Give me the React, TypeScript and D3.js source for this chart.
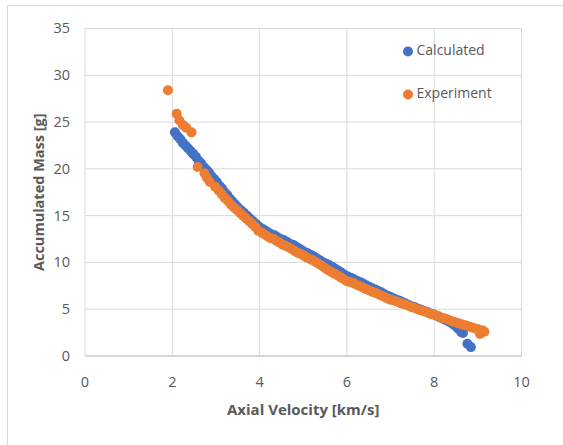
import React from "react";
import * as d3 from "d3";

const calcX = [2.06,2.12,2.18,2.24,2.30,2.36,2.42,2.48,2.54,2.60,2.66,2.72,2.78,2.84,2.90,2.96,3.02,3.08,3.14,3.20,3.26,3.32,3.38,3.44,3.50,3.57,3.64,3.71,3.78,3.85,3.92,3.99,4.06,4.13,4.20,4.27,4.34,4.41,4.48,4.55,4.62,4.69,4.76,4.83,4.90,4.97,5.04,5.11,5.18,5.25,5.32,5.39,5.46,5.53,5.60,5.67,5.74,5.81,5.88,5.95,6.02,6.09,6.16,6.23,6.30,6.37,6.44,6.51,6.58,6.65,6.72,6.79,6.86,6.93,7.00,7.07,7.14,7.21,7.28,7.35,7.42,7.49,7.56,7.63,7.70,7.77,7.84,7.91,7.98,8.05,8.12,8.19,8.26,8.33,8.40,8.46,8.54,8.62,8.66,8.76,8.84];
const calcY = [23.9,23.5,23.2,22.8,22.5,22.2,21.9,21.6,21.3,20.9,20.6,20.2,19.9,19.6,19.2,18.9,18.6,18.2,17.9,17.5,17.2,16.8,16.5,16.2,15.9,15.6,15.3,15.0,14.7,14.4,14.1,13.8,13.6,13.4,13.2,13.0,12.9,12.7,12.5,12.4,12.2,12.0,11.9,11.7,11.5,11.3,11.1,10.95,10.8,10.6,10.4,10.2,10.0,9.85,9.7,9.5,9.3,9.1,8.9,8.65,8.5,8.35,8.2,8.05,7.9,7.75,7.55,7.4,7.25,7.1,6.95,6.8,6.6,6.45,6.3,6.15,6.0,5.9,5.75,5.6,5.45,5.3,5.2,5.05,4.95,4.8,4.7,4.55,4.45,4.3,4.15,4.0,3.85,3.7,3.5,3.3,2.95,2.55,2.45,1.3,0.95];

const expX = [1.90,2.10,2.16,2.24,2.32,2.44,2.58,2.74,2.80,2.86,2.98,3.06,3.13,3.20,3.27,3.34,3.41,3.48,3.55,3.62,3.69,3.76,3.83,3.90,3.97,4.04,4.11,4.18,4.25,4.32,4.39,4.46,4.53,4.60,4.67,4.74,4.81,4.88,4.95,5.02,5.09,5.16,5.23,5.30,5.37,5.44,5.51,5.58,5.65,5.72,5.79,5.86,5.93,6.00,6.07,6.14,6.21,6.28,6.35,6.42,6.49,6.56,6.63,6.70,6.77,6.84,6.91,6.98,7.05,7.12,7.19,7.26,7.33,7.40,7.47,7.54,7.61,7.68,7.75,7.82,7.89,7.96,8.03,8.10,8.17,8.24,8.31,8.38,8.45,8.52,8.59,8.66,8.73,8.80,8.87,8.94,9.00,9.05,9.10,9.15];
const expY = [28.4,25.9,25.2,24.7,24.4,23.9,20.2,19.5,19.0,18.6,18.1,17.7,17.3,16.9,16.6,16.2,15.9,15.6,15.3,15.0,14.7,14.4,14.1,13.8,13.4,13.2,13.0,12.8,12.6,12.5,12.3,12.1,11.9,11.75,11.6,11.4,11.2,11.0,10.9,10.7,10.5,10.35,10.2,10.0,9.8,9.6,9.35,9.15,8.95,8.8,8.6,8.4,8.2,8.0,7.9,7.8,7.65,7.5,7.35,7.2,7.05,6.9,6.8,6.65,6.5,6.35,6.2,6.05,5.95,5.85,5.75,5.6,5.5,5.4,5.25,5.15,5.0,4.9,4.8,4.7,4.55,4.45,4.35,4.25,4.1,4.0,3.9,3.75,3.65,3.55,3.45,3.35,3.25,3.15,3.05,2.95,2.85,2.35,2.75,2.6];

const xTicks = [0, 2, 4, 6, 8, 10];
const yTicks = [0, 5, 10, 15, 20, 25, 30, 35];
const seriesNames = ["Calculated", "Experiment"];
const xTitle = "Axial Velocity [km/s]";
const yTitle = "Accumulated Mass [g]";

const W = 563;
const H = 445;
const left = 85;
const right = 521.5;
const top = 28.5;
const bottom = 356;
const BLUE = "#4472C4";
const ORANGE = "#ED7D31";
const GRID = "#D9D9D9";
const TXT = "#595959";
const FONT = "'Open Sans', 'Liberation Sans', sans-serif";

export default function App() {
  const x = d3.scaleLinear().domain([0, 10]).range([left, right]);
  const y = d3.scaleLinear().domain([0, 35]).range([bottom, top]);
  const calc = calcX.map((v, i) => [v, calcY[i]]);
  const exp = expX.map((v, i) => [v, expY[i]]);
  return (
    <svg
      width={W}
      height={H}
      style={{ position: "absolute", left: 0, top: 0, background: "#fff" }}
      fontFamily={FONT}
    >
      <rect x={7.5} y={5.5} width={W + 10} height={H + 10} fill="#fff" stroke={GRID} strokeWidth={1} />
      {yTicks.map((t) => (
        <line key={"gy" + t} x1={left} x2={right} y1={y(t)} y2={y(t)} stroke={GRID} strokeWidth={1} />
      ))}
      {xTicks.map((t) => (
        <line key={"gx" + t} x1={x(t)} x2={x(t)} y1={top} y2={bottom} stroke={GRID} strokeWidth={1} />
      ))}
      <line x1={left} x2={right} y1={bottom} y2={bottom} stroke="#BFBFBF" strokeWidth={1} />
      {yTicks.map((t) => (
        <text key={"ty" + t} x={70} y={y(t) + 1} textAnchor="end" dominantBaseline="middle" fontSize={14.5} fill={TXT}>
          {t}
        </text>
      ))}
      {xTicks.map((t) => (
        <text key={"tx" + t} x={x(t)} y={383} textAnchor="middle" dominantBaseline="middle" fontSize={14.5} fill={TXT}>
          {t}
        </text>
      ))}
      <text x={(left + right) / 2} y={411} textAnchor="middle" dominantBaseline="middle" fontSize={15} fontWeight="bold" fill={TXT}>
        {xTitle}
      </text>
      <text
        transform={`translate(40,${(top + bottom) / 2}) rotate(-90)`}
        textAnchor="middle"
        dominantBaseline="middle"
        fontSize={14.5}
        fontWeight="bold"
        fill={TXT}
      >
        {yTitle}
      </text>
      <g>
        {calc.map((d, i) => (
          <circle key={"c" + i} cx={x(d[0])} cy={y(d[1])} r={5} fill={BLUE} />
        ))}
      </g>
      <g>
        {exp.map((d, i) => (
          <circle key={"e" + i} cx={x(d[0])} cy={y(d[1])} r={5} fill={ORANGE} />
        ))}
      </g>
      {seriesNames.map((n, i) => (
        <g key={n} transform={`translate(408,${51.5 + i * 43})`}>
          <circle cx={0} cy={0} r={5} fill={i === 0 ? BLUE : ORANGE} />
          <text x={8.5} y={0} dominantBaseline="middle" fontSize={14} fill={TXT}>
            {n}
          </text>
        </g>
      ))}
    </svg>
  );
}
